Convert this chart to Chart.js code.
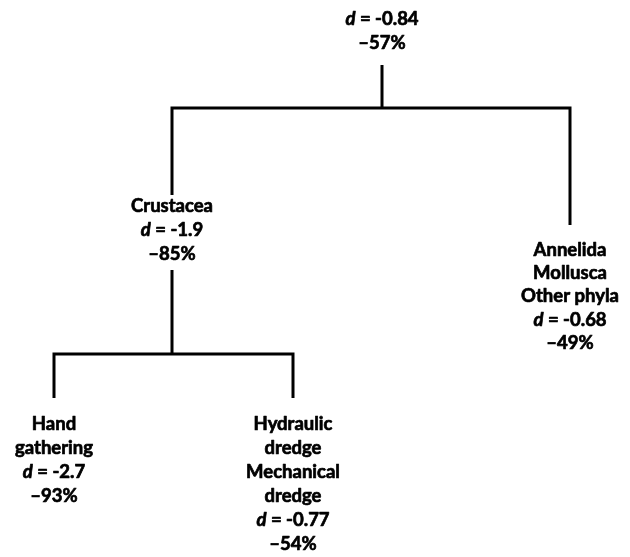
<!DOCTYPE html>
<html>
<head>
<meta charset="utf-8">
<script src="https://cdn.jsdelivr.net/npm/chart.js@4.4.0/dist/chart.umd.min.js"></script>
<style>
    body { margin: 0; background: #fff; }
    #tree { display: block; }
</style>
</head>
<body>
<canvas id="tree" width="630" height="557"></canvas>
<script>
// Tree nodes: root, Crustacea, Annelida/Mollusca/Other, Hand gathering, dredges
const nodeNames = [
    [],
    ["Crustacea"],
    ["Annelida", "Mollusca", "Other phyla"],
    ["Hand", "gathering"],
    ["Hydraulic", "dredge", "Mechanical", "dredge"]
];
const effectSizes = ["-0.84", "-1.9", "-0.68", "-2.7", "-0.77"];
const percentChanges = [-57, -85, -49, -93, -54];
const parents = [-1, 0, 0, 1, 1];

// layout (in axis units, y grows downward)
const nodeX = [382, 172, 570, 54, 293];
const labelY = [19, 206, 250, 424, 424];
const lineGap = [24, 24, 23.2, 24, 24];
const stemTop = [65, 270, null, null, null];
const barY = [108, 354, null, null, null];
const childTop = [null, 195, 225, 398, 398];

document.addEventListener("DOMContentLoaded", () => {
    const segments = [];
    parents.forEach((p, i) => {
        if (p < 0) return;
        if (!segments[p]) {
            segments[p] = [{ x: nodeX[p], y: stemTop[p] }, { x: nodeX[p], y: barY[p] }];
        }
    });
    const datasets = [];
    segments.forEach((stem, p) => {
        if (!stem) return;
        datasets.push({ data: stem });
        const kids = parents.map((q, i) => q === p ? i : -1).filter(i => i >= 0);
        kids.sort((a, b) => nodeX[a] - nodeX[b]);
        const first = kids[0], last = kids[kids.length - 1];
        datasets.push({
            data: [
                { x: nodeX[first], y: childTop[first] },
                { x: nodeX[first], y: barY[p] },
                { x: nodeX[last], y: barY[p] },
                { x: nodeX[last], y: childTop[last] }
            ]
        });
    });
    datasets.forEach(ds => {
        ds.borderColor = "#000";
        ds.borderWidth = 3;
        ds.pointRadius = 0;
        ds.showLine = true;
        ds.borderJoinStyle = "miter";
        ds.tension = 0;
    });

    const font = "Lato, 'Open Sans', sans-serif";
    const size = "18.5px ";
    // draw text a little heavier, like the original bold face
    function heavyText(ctx, t, x, y) {
        ctx.strokeText(t, x, y);
        ctx.fillText(t, x, y);
    }
    const labelPlugin = {
        id: "nodeLabels",
        afterDatasetsDraw(chart) {
            const ctx = chart.ctx;
            const xs = chart.scales.x, ys = chart.scales.y;
            ctx.save();
            ctx.fillStyle = "#000";
            ctx.strokeStyle = "#000";
            ctx.lineWidth = 0.7;
            ctx.lineJoin = "round";
            ctx.textBaseline = "middle";
            ctx.textAlign = "left";
            nodeNames.forEach((lines, i) => {
                const cx = xs.getPixelForValue(nodeX[i]);
                let k = 0;
                const rowY = () => ys.getPixelForValue(labelY[i] + lineGap[i] * k++);
                lines.forEach(t => {
                    ctx.font = "bold " + size + font;
                    const w = ctx.measureText(t).width;
                    heavyText(ctx, t, cx - w / 2, rowY());
                });
                // d = value, d in italics
                const y = rowY();
                ctx.font = "italic bold " + size + font;
                const dw = ctx.measureText("d").width;
                ctx.font = "bold " + size + font;
                const rest = " = " + effectSizes[i];
                const rw = ctx.measureText(rest).width;
                const x0 = cx - (dw + rw) / 2;
                ctx.font = "italic bold " + size + font;
                heavyText(ctx, "d", x0, y);
                ctx.font = "bold " + size + font;
                heavyText(ctx, rest, x0 + dw, y);
                const pct = "\u2013" + Math.abs(percentChanges[i]) + "%";
                const pw = ctx.measureText(pct).width;
                heavyText(ctx, pct, cx - pw / 2, rowY());
            });
            ctx.restore();
        }
    };

    new Chart(document.getElementById("tree"), {
        type: "scatter",
        data: { datasets: datasets },
        options: {
            responsive: false,
            animation: false,
            devicePixelRatio: 1,
            layout: { padding: 0 },
            plugins: { legend: { display: false }, tooltip: { enabled: false } },
            scales: {
                x: { type: "linear", min: 0, max: 630, display: false },
                y: { type: "linear", min: 0, max: 557, reverse: true, display: false }
            }
        },
        plugins: [labelPlugin]
    });
});
</script>
</body>
</html>
